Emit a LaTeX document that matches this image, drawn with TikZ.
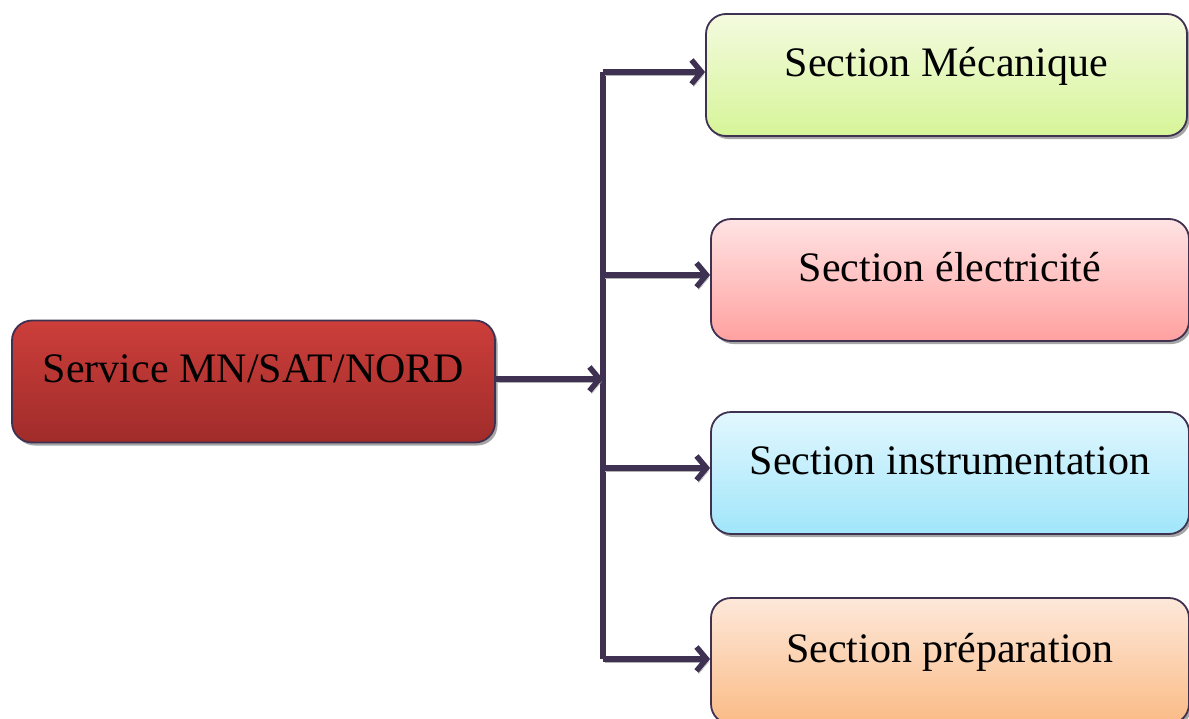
\documentclass[tikz,border=0pt]{standalone}
\usepackage{fontspec}
\setmainfont{Liberation Serif}
\usetikzlibrary{arrows.meta,shadows}
\definecolor{edge}{HTML}{3F3151}
\definecolor{redtop}{HTML}{CC3E3A}
\definecolor{redbot}{HTML}{A02C2A}
\definecolor{greentop}{HTML}{F4FADF}
\definecolor{greenbot}{HTML}{D6F598}
\definecolor{pinktop}{HTML}{FFE3E3}
\definecolor{pinkbot}{HTML}{FFA1A0}
\definecolor{bluetop}{HTML}{E2F7FE}
\definecolor{bluebot}{HTML}{A0E6FA}
\definecolor{orangetop}{HTML}{FDE8DA}
\definecolor{orangebot}{HTML}{FBBB86}
\tikzset{
  box/.style={draw=edge, line width=1.8pt, rounded corners=20pt,
    minimum height=122pt, text height=30pt, text depth=28pt,
    font=\fontsize{42}{50}\selectfont,
    drop shadow={shadow xshift=2.5pt, shadow yshift=-3pt, fill=black, opacity=0.35}},
  conn/.style={draw=edge, line width=5.5pt,
    -{Straight Barb[length=10pt,width=24pt]},
    preaction={draw=black!30, transform canvas={shift={(2pt,-3pt)}}}},
}
\begin{document}
\begin{tikzpicture}[x=1pt,y=-1pt]
\useasboundingbox (0,0) rectangle (1189,718);
\clip (0,0) rectangle (1189,718);
\node[box, minimum width=483pt, top color=redtop, bottom color=redbot] (main) at (253.5,381.5) {Service MN/SAT/NORD};
\node[box, minimum width=481pt, top color=greentop, bottom color=greenbot] (mec) at (946.5,75) {Section Mécanique};
\node[box, minimum width=478pt, top color=pinktop, bottom color=pinkbot] (elec) at (950,280) {Section électricité};
\node[box, minimum width=478pt, top color=bluetop, bottom color=bluebot] (instr) at (950,473) {Section instrumentation};
\node[box, minimum width=478pt, minimum height=126pt, top color=orangetop, bottom color=orangebot] (prep) at (950,661) {Section préparation};
\coordinate (j) at (603,379);
\coordinate (top) at (603,72);
\coordinate (bot) at (603,659);
\coordinate (b2) at (603,275);
\coordinate (b3) at (603,468);
\draw[conn, -] (top) -- (bot);
\draw[conn] (main.east |- j) -- (j);
\draw[conn] (top) -- (mec.west |- top);
\draw[conn] (b2) -- (elec.west |- b2);
\draw[conn] (b3) -- (instr.west |- b3);
\draw[conn] (bot) -- (prep.west |- bot);
\end{tikzpicture}
\end{document}
